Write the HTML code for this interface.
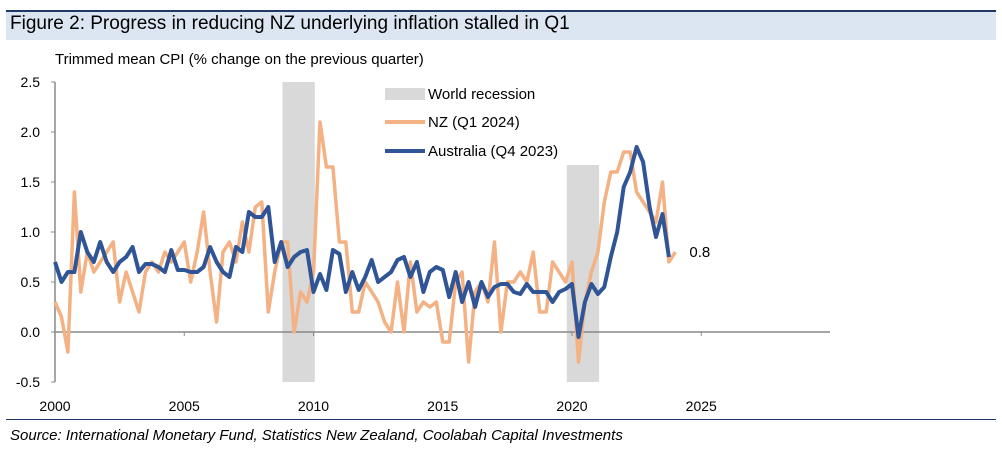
<!DOCTYPE html>
<html><head><meta charset="utf-8"><style>
body{margin:0;background:#fff;font-family:"Liberation Sans",sans-serif;}
#wrap{position:relative;width:1002px;height:453px;overflow:hidden;}
</style></head><body>
<div id="wrap">
<div style="position:absolute;left:6px;top:10px;width:990px;height:30px;background:#dce6f2;border-top:2px solid #1f3864;box-sizing:border-box;"></div>
<div style="position:absolute;left:10px;top:13px;font-size:19px;color:#000;">Figure 2: Progress in reducing NZ underlying inflation stalled in Q1</div>
<div style="position:absolute;left:6px;top:419px;width:990px;height:1px;background:#1f3864;"></div>
<div style="position:absolute;left:10px;top:427px;font-size:15px;font-style:italic;color:#000;">Source: International Monetary Fund, Statistics New Zealand, Coolabah Capital Investments</div>
<svg id="chart" width="1002" height="453" style="position:absolute;left:0;top:0;font-family:'Liberation Sans',sans-serif;"></svg>
</div>
<script>
const yTicks=[2.5,2.0,1.5,1.0,0.5,0.0,-0.5];
const yTickLabels=["2.5","2.0","1.5","1.0","0.5","0.0","-0.5"];
const xTicks=[2000,2005,2010,2015,2020,2025];
const recessions=[[2008.8,2010.05,2.5],[2019.8,2021.05,1.67]];
const nzValues=[0.3,0.15,-0.2,1.4, 0.4,0.8,0.6,0.7, 0.8,0.9,0.3,0.6, 0.4,0.2,0.6,0.7, 0.6,0.8,0.7,0.8, 0.9,0.5,0.8,1.2, 0.6,0.1,0.8,0.9, 0.7,1.1,0.8,1.25, 1.3,0.2,0.6,0.9, 0.9,0.0,0.4,0.3, 0.6,2.1,1.65,1.65, 0.9,0.9,0.2,0.2, 0.5,0.4,0.3,0.1, 0.0,0.5,0.0,0.7, 0.2,0.3,0.25,0.3, -0.1,-0.1,0.5,0.6, -0.3,0.4,0.5,0.3, 0.9,0.0,0.5,0.5, 0.6,0.5,0.8,0.2, 0.2,0.7,0.6,0.5, 0.7,-0.3,0.3,0.6, 0.8,1.3,1.6,1.6, 1.8,1.8,1.4,1.3, 1.2,1.1,1.5,0.7, 0.8];
const auValues=[0.7,0.5,0.6,0.6, 1.0,0.8,0.7,0.9, 0.7,0.6,0.7,0.75, 0.85,0.6,0.68,0.68, 0.65,0.6,0.82,0.62, 0.62,0.6,0.6,0.65, 0.85,0.7,0.6,0.55, 0.85,0.8,1.2,1.15, 1.15,1.25,0.7,0.9, 0.65,0.75,0.8,0.82, 0.4,0.58,0.42,0.82, 0.78,0.4,0.6,0.42, 0.55,0.72,0.5,0.55, 0.6,0.72,0.75,0.55, 0.7,0.4,0.6,0.65, 0.62,0.35,0.6,0.3, 0.5,0.25,0.5,0.35, 0.45,0.48,0.48,0.4, 0.38,0.48,0.4,0.4, 0.4,0.3,0.4,0.43, 0.48,-0.05,0.3,0.48, 0.38,0.45,0.75,1.0, 1.45,1.6,1.85,1.7, 1.25,0.95,1.18,0.75];
const lastLabel="0.8";

const svg=document.getElementById('chart');
const NS='http://www.w3.org/2000/svg';
const X=t=>55+(t-2000)*25.85;
const Y=v=>332-v*100;
function mk(tag,attrs){const e=document.createElementNS(NS,tag);for(const k in attrs)e.setAttribute(k,attrs[k]);svg.appendChild(e);return e;}

let t=mk('text',{x:55,y:64,'font-size':15,fill:'#000'});t.textContent='Trimmed mean CPI (% change on the previous quarter)';



recessions.forEach(r=>{
  const e=mk('rect',{x:X(r[0]),y:Y(r[2]),width:X(r[1])-X(r[0]),height:Y(-0.5)-Y(r[2]),fill:'#d9d9d9'});
  
  
});

let a=mk('line',{x1:55,y1:Y(2.5),x2:55,y2:Y(-0.5),stroke:'#888','stroke-width':1.5});


a=mk('line',{x1:55,y1:Y(0),x2:830,y2:Y(0),stroke:'#888','stroke-width':1.5});



yTicks.forEach((v,i)=>{
  const l=mk('line',{x1:51,y1:Y(v),x2:55,y2:Y(v),stroke:'#888'});
  
  
  const tx=mk('text',{x:40,y:Y(v)+5,'font-size':14,'text-anchor':'end',fill:'#000'});tx.textContent=yTickLabels[i];
  
  
});
xTicks.forEach(v=>{
  const l=mk('line',{x1:X(v),y1:Y(0),x2:X(v),y2:Y(0)+4,stroke:'#888'});
  
  
  const tx=mk('text',{x:X(v),y:411,'font-size':14,'text-anchor':'middle',fill:'#000'});tx.textContent=v;
  
  
});

function series(vals,color,name){
  const pts=vals.map((v,i)=>X(2000+i*0.25).toFixed(1)+','+Y(v).toFixed(1)).join(' ');
  const p=mk('polyline',{points:pts,fill:'none',stroke:color,'stroke-width':name==='nz-line'?3.5:4,'stroke-linejoin':'round'});
  
  
}
series(nzValues,'#f4b183','nz-line');
series(auValues,'#2f5597','australia-line');

const n=nzValues.length-1;
t=mk('text',{x:X(2000+n*0.25)+14,y:Y(nzValues[n])+5,'font-size':15,fill:'#000'});t.textContent=lastLabel;



let g=mk('rect',{x:385,y:88,width:40,height:12,fill:'#d9d9d9'});


t=mk('text',{x:428,y:99,'font-size':15,fill:'#000'});t.textContent='World recession';


g=mk('line',{x1:385,y1:122,x2:425,y2:122,stroke:'#f4b183','stroke-width':4});


t=mk('text',{x:428,y:127,'font-size':15,fill:'#000'});t.textContent='NZ (Q1 2024)';


g=mk('line',{x1:385,y1:151,x2:425,y2:151,stroke:'#2f5597','stroke-width':4});


t=mk('text',{x:428,y:156,'font-size':15,fill:'#000'});t.textContent='Australia (Q4 2023)';


</script>
</body></html>
